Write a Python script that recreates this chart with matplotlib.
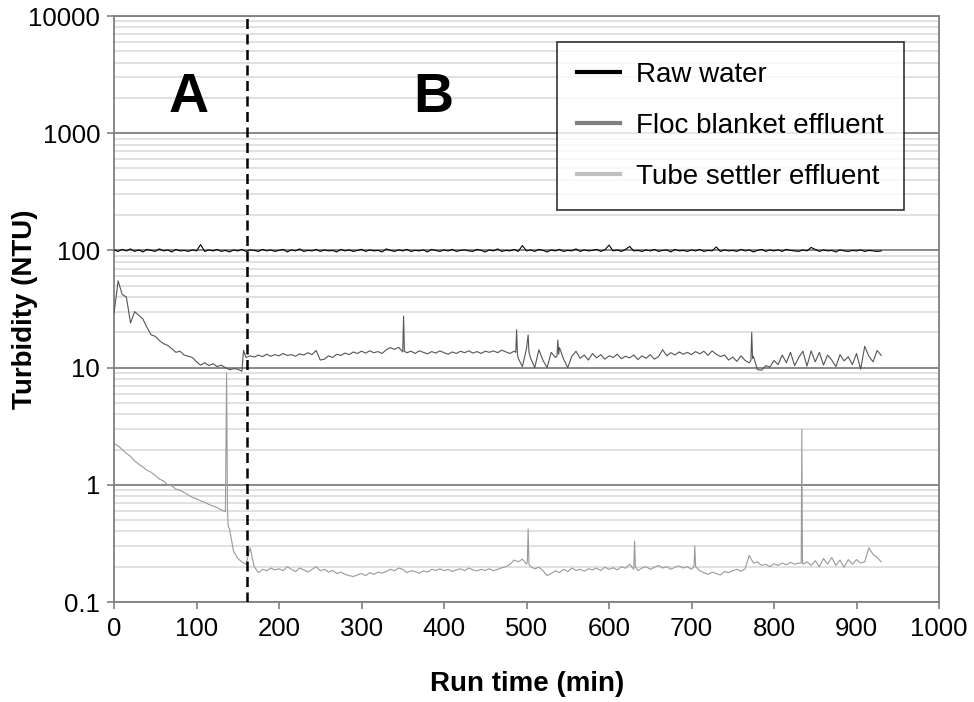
import numpy as np
import matplotlib
matplotlib.use("Agg")
import matplotlib.pyplot as plt
from matplotlib.lines import Line2D
from matplotlib.ticker import LogLocator, FixedLocator, NullFormatter

plt.rcParams['font.family'] = ['Liberation Sans', 'DejaVu Sans']

# ---------------- data ----------------
grid_step = 5  # minutes between base samples (0..930)

raw_water = [
    101, 98, 102, 99, 103, 98, 101, 97, 102, 100,
    98, 103, 99, 101, 97, 102, 99, 100, 98, 101,
    99, 112, 98, 101, 99, 102, 98, 100, 97, 101,
    99, 102, 98, 101, 100, 98, 102, 99, 101, 98,
    100, 102, 97, 101, 99, 103, 98, 100, 99, 102,
    98, 101, 99, 100, 97, 102, 99, 101, 98, 100,
    102, 98, 101, 99, 100, 97, 103, 100, 98, 101,
    99, 102, 98, 100, 99, 101, 97, 102, 100, 98,
    101, 99, 102, 98, 100, 101, 99, 98, 102, 100,
    97, 101, 99, 103, 98, 100, 99, 102, 98, 110,
    99, 101, 98, 102, 100, 97, 101, 99, 102, 98,
    100, 99, 103, 98, 101, 99, 100, 102, 98, 101,
    111, 99, 101, 98, 102, 108, 99, 100, 98, 101,
    99, 102, 98, 100, 101, 97, 102, 99, 100, 98,
    101, 99, 102, 98, 100, 99, 107, 98, 101, 99,
    100, 98, 102, 99, 101, 97, 100, 102, 98, 101,
    99, 101, 98, 102, 100, 99, 98, 101, 99, 106,
    102, 98, 101, 99, 100, 97, 101, 99, 98, 100,
    99, 101, 98, 100, 99, 98, 99,
]

floc_blanket = [
    29, 55, 42, 40, 24, 30, 28, 26, 22, 19,
    18.5, 17, 16, 15.5, 14.5, 13.5, 13.8, 12.8, 12.5, 12.2,
    11.2, 10.5, 11, 10.4, 10.8, 10.2, 10.5, 10, 9.6, 9.8,
    9.7, 9.3, 12.2, 12.6, 12.3, 12.8, 12.4, 13.0, 12.5, 12.9,
    12.6, 13.2, 12.7, 12.9, 12.5, 13.1, 12.8, 13.4, 12.9, 14.0,
    11.6, 11.8, 12.6, 12.2, 13.0, 12.7, 13.3, 12.9, 13.6, 13.2,
    13.8, 13.3, 13.9, 13.4, 13.7, 13.2, 14.2, 14.8, 14.3, 14.9,
    13.6, 13.4, 13.8, 13.2, 13.9, 13.5, 13.1, 13.7, 13.3, 13.9,
    13.4, 13.0, 13.6, 13.2, 13.8, 13.4, 13.9, 13.3, 13.7, 13.2,
    13.8, 13.5, 13.9, 13.4, 14.1, 13.6, 13.2, 13.8, 12.0, 10.2,
    14.5, 12.0, 10.0, 14.2, 11.5, 10.0, 13.5, 12.2, 14.8, 11.8,
    10.0, 12.5, 13.8, 12.0, 12.8, 11.6, 13.2, 12.1, 12.9, 11.8,
    12.6, 12.2, 13.0, 11.9, 12.5, 12.1, 12.8, 11.7, 12.6, 12.0,
    12.9, 11.8, 12.4, 14.2, 12.6, 13.4, 12.8, 13.6, 13.0, 13.5,
    12.9, 13.7, 13.1, 13.8, 12.7, 13.9, 13.0, 12.4, 12.8, 11.6,
    12.3, 11.3, 12.6, 11.5, 11.0, 12.5, 9.6, 9.5, 10.4, 10.1,
    11.5, 10.6, 12.8, 11.0, 13.5, 10.4, 12.2, 13.8, 10.3, 13.9,
    11.2, 13.5, 10.5, 12.8, 11.6, 10.2, 12.9, 11.4, 12.4, 10.6,
    13.2, 9.7, 15.2, 12.5, 11.2, 14.0, 12.7,
]
floc_spike_t = [157, 351, 352, 487, 488, 489, 502, 503, 537, 538, 539, 772, 773, 774]
floc_spike_v = [14.0, 27.5, 13.8, 13.5, 21.0, 13.0, 19.0, 13.5, 12.5, 17.2, 13.0, 11.5, 20.0, 12.0]

tube_settler = [
    2.25, 2.15, 2.0, 1.85, 1.75, 1.6, 1.5, 1.42, 1.33, 1.28,
    1.2, 1.12, 1.08, 1.0, 0.98, 0.92, 0.9, 0.86, 0.82, 0.78,
    0.76, 0.73, 0.71, 0.68, 0.66, 0.64, 0.61, 0.59, 0.42, 0.27,
    0.235, 0.22, 0.21, 0.29, 0.2, 0.178, 0.19, 0.185, 0.195, 0.188,
    0.192, 0.185, 0.2, 0.19, 0.182, 0.195, 0.188, 0.18, 0.19, 0.2,
    0.185, 0.19, 0.18, 0.186, 0.175, 0.18, 0.172, 0.168, 0.165, 0.17,
    0.175, 0.168, 0.178, 0.172, 0.18, 0.176, 0.182, 0.19, 0.185, 0.195,
    0.19, 0.178, 0.185, 0.182, 0.176, 0.184, 0.18, 0.19, 0.186, 0.192,
    0.185, 0.19, 0.182, 0.188, 0.192, 0.185, 0.195, 0.188, 0.184, 0.19,
    0.186, 0.192, 0.185, 0.19, 0.196, 0.2, 0.21, 0.228, 0.22, 0.232,
    0.21, 0.2, 0.192, 0.198, 0.185, 0.168, 0.175, 0.185, 0.178, 0.19,
    0.182, 0.195, 0.186, 0.19, 0.183, 0.192, 0.188, 0.195, 0.185, 0.198,
    0.19, 0.196, 0.188, 0.2, 0.194, 0.21, 0.19, 0.185, 0.195, 0.2,
    0.19, 0.198, 0.205, 0.195, 0.2, 0.19, 0.198, 0.203, 0.195, 0.2,
    0.19, 0.2, 0.185, 0.178, 0.172, 0.18, 0.175, 0.17, 0.182, 0.178,
    0.185, 0.19, 0.183, 0.192, 0.25, 0.215, 0.22, 0.205, 0.21, 0.2,
    0.212, 0.205, 0.215, 0.208, 0.218, 0.21, 0.215, 0.21, 0.22, 0.205,
    0.225, 0.2, 0.235, 0.21, 0.24, 0.205, 0.228, 0.198, 0.23, 0.21,
    0.23, 0.215, 0.22, 0.29, 0.255, 0.24, 0.22,
]
tube_spike_t = [136.5, 137.5, 138.5, 501, 502, 503, 631, 632, 703, 704, 833, 833.7, 834.5]
tube_spike_v = [9.0, 0.62, 0.44, 0.22, 0.42, 0.21, 0.33, 0.2, 0.2, 0.3, 0.215, 2.96, 0.22]

series_names = ["Raw water", "Floc blanket effluent", "Tube settler effluent"]
phase_labels = ["A", "B"]
phase_label_t = [90, 387]
phase_boundary_t = 161
x_ticks = [0, 100, 200, 300, 400, 500, 600, 700, 800, 900, 1000]
y_ticks = [0.1, 1, 10, 100, 1000, 10000]
y_tick_labels = ["0.1", "1", "10", "100", "1000", "10000"]


def merged(base, extra_t, extra_v):
    t = np.arange(len(base)) * grid_step
    tt = np.concatenate([t, np.asarray(extra_t, float)])
    vv = np.concatenate([np.asarray(base, float), np.asarray(extra_v, float)])
    order = np.argsort(tt, kind="stable")
    return tt[order], vv[order]


t_raw = np.arange(len(raw_water)) * grid_step
t_floc, v_floc = merged(floc_blanket, floc_spike_t, floc_spike_v)
t_tube, v_tube = merged(tube_settler, tube_spike_t, tube_spike_v)

# ---------------- figure ----------------
fig = plt.figure(figsize=(9.74, 7.02), dpi=100)
ax = fig.add_axes([114 / 974, 1 - 602 / 702, (939 - 114) / 974, (602 - 16) / 702])

ax.set_yscale("log")
ax.set_xlim(0, 1000)
ax.set_ylim(0.1, 10000)

# grid
ax.yaxis.set_major_locator(FixedLocator(y_ticks))
ax.yaxis.set_minor_locator(LogLocator(base=10, subs=np.arange(2, 10)))
ax.yaxis.set_minor_formatter(NullFormatter())
ax.set_yticks(y_ticks)
ax.set_yticklabels(y_tick_labels)
ax.set_xticks(x_ticks)
ax.grid(which="minor", axis="y", color="#d9d9d9", lw=1.1, zorder=0)
ax.grid(which="major", axis="y", color="#808080", lw=1.3, zorder=0.5)
ax.tick_params(axis="y", which="minor", length=0)
ax.tick_params(axis="both", which="major", direction="out", length=5, width=1.2,
               color="#808080", labelsize=18.5)
ax.tick_params(axis="y", pad=5)
ax.tick_params(axis="x", pad=6)
for s in ax.spines.values():
    s.set_color("#808080")
    s.set_linewidth(1.3)

ax.plot(t_tube, v_tube, color="#9a9a9a", lw=0.8, zorder=2)
ax.plot(t_floc, v_floc, color="#555555", lw=0.8, zorder=3)
ax.plot(t_raw, raw_water, color="#000000", lw=0.8, zorder=4)

ax.axvline(phase_boundary_t, color="black", lw=1.8, ls=(0, (4, 2.2)), zorder=5)

for lab, tx in zip(phase_labels, phase_label_t):
    ax.text(tx, 2000, lab, fontsize=40, fontweight="bold", ha="center", va="center", zorder=6)

ax.set_xlabel("Run time (min)", fontsize=20, fontweight="bold")
ax.set_ylabel("Turbidity (NTU)", fontsize=20, fontweight="bold")
ax.xaxis.set_label_coords((527 - 114) / 825, (602 - 684) / 586)
ax.xaxis.label.set_va("center")
ax.yaxis.set_label_coords((25 - 114) / 825, 0.5)
ax.yaxis.label.set_va("center")

handles = [Line2D([], [], color=c, lw=3) for c in ["#000000", "#808080", "#c0c0c0"]]
leg = ax.legend(handles, series_names, loc="upper right",
                bbox_to_anchor=((904 - 114) / 825, (602 - 42) / 586),
                borderaxespad=0, fontsize=20, frameon=True, fancybox=False,
                edgecolor="black", handlelength=1.55, handletextpad=0.6,
                labelspacing=0.9, borderpad=0.72)
leg.get_frame().set_linewidth(1.2)
leg.set_zorder(10)

fig.savefig("out.png", dpi=100, facecolor="white")
